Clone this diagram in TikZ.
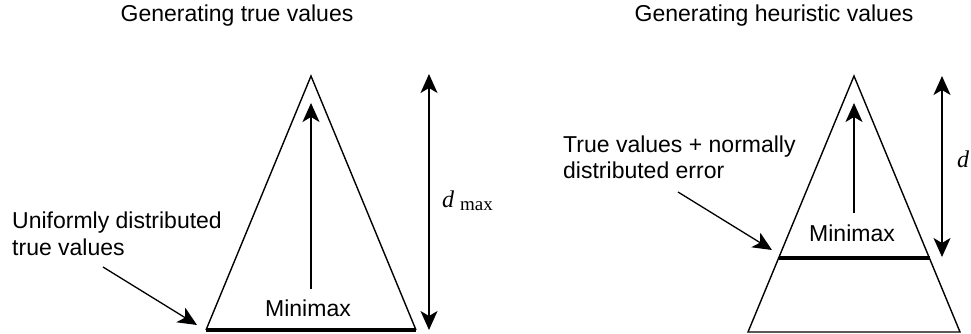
\documentclass[tikz,border=0pt]{standalone}
\usepackage{fontspec}
\setmainfont{Liberation Sans}
\newfontfamily\seriffont{Liberation Serif}
\usetikzlibrary{arrows.meta}
\tikzset{
  lbl/.style={inner sep=0pt, font=\fontsize{23}{27}\selectfont},
  edge/.style={line width=1.4pt, line join=miter},
  thick line/.style={line width=4.5pt},
  arr/.style={line width=1.3pt, -{Stealth[length=19pt,width=17pt,inset=5pt]}},
  darr/.style={line width=1.3pt, {Stealth[length=19pt,width=17pt,inset=5pt]}-{Stealth[length=19pt,width=17pt,inset=5pt]}},
  dlbl/.style={inner sep=0pt, anchor=base west}
}
\newcommand{\dmaxlabel}{{\seriffont\fontsize{24}{24}\selectfont\itshape d\hspace{6pt}\raisebox{-3pt}{\upshape\fontsize{19}{19}\selectfont max}}}
\begin{document}
\begin{tikzpicture}[x=1pt,y=-1pt]
\useasboundingbox (0,0) rectangle (971,334);
% titles
\node[lbl, anchor=base] (t1) at (237,22) {Generating true values};
\node[lbl, anchor=base] (t2) at (774,22) {Generating heuristic values};

% ---- left: true values ----
\coordinate (A1) at (311,76);
\coordinate (BL1) at (206,330);
\coordinate (BR1) at (416,330);
\draw[edge] (BL1) -- (A1) -- (BR1);
\draw[thick line] (BL1) -- (BR1);
\coordinate (m1s) at (311,289);
\coordinate (m1e) at (311,103);
\draw[arr] (m1s) -- (m1e);
\node[lbl, anchor=base] (mm1) at (308,316) {Minimax};
\coordinate (d1t) at (429,74);
\coordinate (d1b) at (429,330);
\draw[darr] (d1b) -- (d1t);
\node[dlbl] (dl1) at (442,207) {\dmaxlabel};
\node[lbl, anchor=base west] (u1) at (12,228) {Uniformly distributed};
\node[lbl, anchor=base west] (u2) at (12,255) {true values};
\coordinate (p1s) at (103,267);
\coordinate (p1e) at (197,325);
\draw[arr] (p1s) -- (p1e);

% ---- right: heuristic values ----
\coordinate (A2) at (854,76);
\coordinate (BL2) at (748,332);
\coordinate (BR2) at (960,332);
\draw[edge] (BL2) -- (A2) -- (BR2) -- cycle;
\coordinate (cl) at (778.5,258);
\coordinate (cr) at (929.5,258);
\draw[thick line] (cl) -- (cr);
\coordinate (m2s) at (854,213);
\coordinate (m2e) at (854,103);
\draw[arr] (m2s) -- (m2e);
\node[lbl, anchor=base] (mm2) at (852,241) {Minimax};
\coordinate (d2t) at (942,76);
\coordinate (d2b) at (942,257);
\draw[darr] (d2b) -- (d2t);
\node[dlbl] (dl2) at (957,167) {\seriffont\fontsize{24}{24}\selectfont\itshape d};
\node[lbl, anchor=base west] (v1) at (563,152) {True values + normally};
\node[lbl, anchor=base west] (v2) at (563,178) {distributed error};
\coordinate (p2s) at (678,192);
\coordinate (p2e) at (772,250);
\draw[arr] (p2s) -- (p2e);
\end{tikzpicture}
\end{document}
